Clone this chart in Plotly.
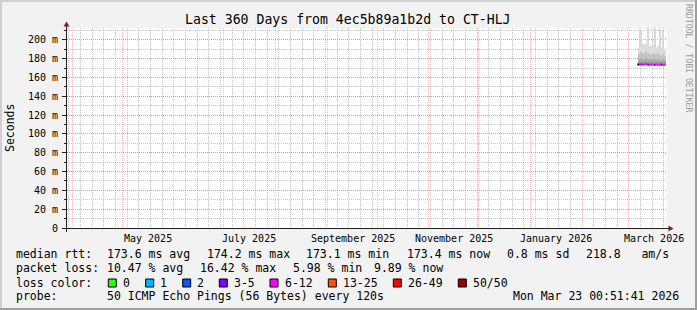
import plotly.graph_objects as go
import pandas as pd

# ---------------- data ----------------
TITLE = "Last 360 Days from 4ec5b89a1b2d to CT-HLJ"
Y_LABEL = "Seconds"
WATERMARK = "RRDTOOL / TOBI OETIKER"

x_range = ["2025-03-28 19:40", "2026-03-23 19:40"]
y_range = [0, 212.7]

y_tick_vals = [0, 20, 40, 60, 80, 100, 120, 140, 160, 180, 200]
y_tick_text = ["0", "20 m", "40 m", "60 m", "80 m", "100 m", "120 m", "140 m", "160 m", "180 m", "200 m"]

month_starts = ["2025-05-01", "2025-07-01", "2025-09-01", "2025-11-01", "2026-01-01", "2026-03-01"]
month_labels = ["May 2025", "July 2025", "September 2025", "November 2025", "January 2026", "March 2026"]

# smoke (ping distribution per day, ms)
smoke_days = pd.date_range("2026-03-07", "2026-03-22", freq="D")
ping_min = [173.0, 173.2, 173.1, 173.0, 173.3, 173.1, 173.0, 173.2, 173.1, 173.0, 173.2, 173.1, 173.0, 173.1, 173.2, 173.0]
ping_p55 = [176.5, 177.0, 176.8, 176.5, 177.2, 176.8, 176.5, 176.3, 176.8, 176.5, 176.3, 176.8, 176.4, 176.2, 176.6, 176.2]
ping_p60 = [179.5, 180.5, 180.0, 179.5, 181.0, 180.0, 179.5, 179.0, 180.0, 179.5, 179.0, 180.0, 179.0, 178.5, 179.5, 178.5]
ping_p75 = [185.0, 187.0, 186.0, 185.0, 188.0, 186.0, 185.0, 184.0, 186.0, 185.0, 184.0, 186.0, 184.0, 183.0, 185.0, 183.0]
ping_p90 = [192.0, 195.0, 194.0, 193.0, 196.0, 195.0, 193.0, 191.0, 194.0, 192.0, 190.0, 193.0, 191.0, 190.0, 192.0, 189.0]
ping_max = [213.0, 211.0, 196.0, 195.0, 197.0, 213.0, 194.0, 192.0, 195.0, 213.0, 191.0, 194.0, 212.0, 191.0, 210.0, 190.0]

# median rtt per day and lost pings (of 50)
median_days = pd.date_range("2026-03-06", "2026-03-22", freq="D")
median_rtt = [173.9, 173.6, 173.9, 173.5, 173.8, 174.2, 173.6, 173.5, 173.7, 173.6, 173.4, 173.8, 173.6, 173.5, 173.7, 173.3, 173.4]
loss_pings = [None, 6, 5, 7, 6, 8, 5, 6, 7, 6, 5, 6, 8, 6, 5, 7, 6]

loss_bins = ["0", "1", "2", "3-5", "6-12", "13-25", "26-49", "50/50"]
loss_upper = [0, 1, 2, 5, 12, 25, 49, 50]
loss_colors = ["#26ff00", "#00b8ff", "#0059ff", "#7e00ff", "#ff00ff", "#ff5500", "#ff0000", "#a00000"]

rtt_names = ["avg", "max", "min", "now"]
rtt_values = [173.6, 174.2, 173.1, 173.4]
rtt_sd = 0.8
rtt_ams = 218.8
loss_names = ["avg", "max", "min", "now"]
loss_values = [10.47, 16.42, 5.98, 9.89]
probe_text = "50 ICMP Echo Pings (56 Bytes) every 120s"
stamp_text = "Mon Mar 23 00:51:41 2026"

# ---------------- layout helpers ----------------
W, H = 697, 310
PL, PR, PT, PB = 67, 667, 28, 228
FONT = "DejaVu Sans Mono"


def px(x):
    return (x - PL) / (PR - PL)


def py(y):
    return (PB - y) / (PB - PT)


fig = go.Figure()

DAY = 86400000
smoke_layers = [
    (ping_max, "#d8d8d8", 0.45),
    (ping_p90, "#dcdcdc", 1.0),
    (ping_p75, "#c4c4c4", 1.0),
    (ping_p60, "#acacac", 1.0),
    (ping_p55, "#959595", 1.0),
]
xc = smoke_days + pd.Timedelta(hours=12)
for top, col, wfrac in smoke_layers:
    fig.add_trace(go.Bar(
        x=xc, y=[t - b for t, b in zip(top, ping_min)], base=ping_min,
        width=DAY * wfrac, marker=dict(color=col, line=dict(width=0)),
        showlegend=False, hoverinfo="skip"))


def loss_color(n):
    if n is None:
        return "#000000"
    for ub, c in zip(loss_upper, loss_colors):
        if n <= ub:
            return c
    return loss_colors[-1]


segs = {}
for d, m, n in zip(median_days, median_rtt, loss_pings):
    c = loss_color(n)
    xs, ys = segs.setdefault(c, ([], []))
    xs += [d, d + pd.Timedelta(days=1), None]
    ys += [m, m, None]
for c, (xs, ys) in segs.items():
    fig.add_trace(go.Scatter(x=xs, y=ys, mode="lines", line=dict(color=c, width=2),
                             showlegend=False, hoverinfo="skip"))

GRID = "rgba(143,143,143,0.5)"
MGRID = "rgba(222,79,79,0.35)"

fig.update_layout(
    width=W, height=H,
    margin=dict(l=PL, r=W - PR, t=PT, b=H - PB, pad=0),
    paper_bgcolor="#f2f2f2", plot_bgcolor="#ffffff",
    barmode="overlay", bargap=0,
    showlegend=False,
    font=dict(family=FONT, color="#000000"),
    xaxis=dict(
        type="date", range=x_range, autorange=False, automargin=False,
        tickmode="linear", tick0="2025-04-01", dtick="M1",
        showticklabels=False, ticks="", showline=False, zeroline=False,
        showgrid=True, gridcolor=MGRID, griddash="1px,1px", gridwidth=1,
        minor=dict(tick0="2025-03-30", dtick=7 * DAY, showgrid=True,
                   gridcolor=GRID, griddash="1px,1px", gridwidth=1, ticks=""),
    ),
    yaxis=dict(
        range=y_range, autorange=False, automargin=False,
        tickmode="array", tickvals=y_tick_vals, ticktext=y_tick_text,
        tickfont=dict(family=FONT, size=10, color="#000000"),
        ticks="outside", ticklen=4, tickcolor="#1f1f1f", tickwidth=1,
        ticklabelstandoff=2,
        showline=False, zeroline=False,
        showgrid=True, gridcolor=MGRID, griddash="1px,1px", gridwidth=1,
        minor=dict(tick0=0, dtick=10, showgrid=True, gridcolor=GRID,
                   griddash="1px,1px", gridwidth=1, ticks="outside", ticklen=2,
                   tickcolor="#1f1f1f"),
    ),
)

shapes = []
# frame
shapes.append(dict(type="rect", xref="paper", yref="paper", x0=px(0), x1=px(2), y0=py(0), y1=py(H),
                   fillcolor="#cfcfcf", line=dict(width=0), layer="above"))
shapes.append(dict(type="rect", xref="paper", yref="paper", x0=px(0), x1=px(W), y0=py(0), y1=py(2),
                   fillcolor="#cfcfcf", line=dict(width=0), layer="above"))
shapes.append(dict(type="rect", xref="paper", yref="paper", x0=px(W - 2), x1=px(W), y0=py(0), y1=py(H),
                   fillcolor="#9e9e9e", line=dict(width=0), layer="above"))
shapes.append(dict(type="rect", xref="paper", yref="paper", x0=px(0), x1=px(W), y0=py(H - 2), y1=py(H),
                   fillcolor="#9e9e9e", line=dict(width=0), layer="above"))
# axes
shapes.append(dict(type="line", xref="paper", yref="paper", x0=px(63), x1=px(669), y0=py(228.5), y1=py(228.5),
                   line=dict(color="#1f1f1f", width=1), layer="above"))
shapes.append(dict(type="line", xref="paper", yref="paper", x0=px(66.5), x1=px(66.5), y0=py(232), y1=py(25),
                   line=dict(color="#1f1f1f", width=1), layer="above"))
# arrows
shapes.append(dict(type="path", xref="paper", yref="paper",
                   path=f"M {px(66.5)} {py(21.5)} L {px(63.5)} {py(26.5)} L {px(69.5)} {py(26.5)} Z",
                   fillcolor="#801f1f", line=dict(width=0), layer="above"))
shapes.append(dict(type="path", xref="paper", yref="paper",
                   path=f"M {px(673.5)} {py(228.5)} L {px(668.5)} {py(225.5)} L {px(668.5)} {py(231.5)} Z",
                   fillcolor="#801f1f", line=dict(width=0), layer="above"))

annotations = []


def text(x, y, s, size=11.5, anchor="left", color="#000000", angle=0, yanchor="middle"):
    annotations.append(dict(xref="paper", yref="paper", x=px(x), y=py(y), text=s, showarrow=False,
                            xanchor=anchor, yanchor=yanchor, textangle=angle,
                            font=dict(family=FONT, size=size, color=color),
                            borderpad=0, borderwidth=0))


text(348, 19, TITLE, size=13.2, anchor="center")
text(10, 128, Y_LABEL, size=11.5, anchor="center", angle=-90)
text(688.5, 58.5, WATERMARK, size=8.2, anchor="center", color="#9c9c9c", angle=90)

# month labels on the date scale
for d, lab in zip(month_starts, month_labels):
    annotations.append(dict(xref="x", yref="paper", x=pd.Timestamp(d) + pd.Timedelta(days=15.3),
                            y=py(238.3), text=lab, showarrow=False, xanchor="center", yanchor="middle",
                            font=dict(family=FONT, size=10, color="#000000"), borderpad=0, borderwidth=0))

# legend rows
L1, L2, L3, L4 = 254, 268, 282.5, 296
text(15.5, L1, "median rtt:")
rtt_x = [107, 207, 305.5, 406.7]
for xx, v, n in zip(rtt_x, rtt_values, rtt_names):
    text(xx, L1, f"{v:.1f} ms {n}")
text(506.7, L1, f"{rtt_sd:.1f} ms sd")
text(586.2, L1, f"{rtt_ams:.1f}   am/s")

text(15.5, L2, "packet loss:")
loss_x = [107, 199.7, 292.5, 373.5]
for xx, v, n in zip(loss_x, loss_values, loss_names):
    text(xx, L2, f"{v:.2f} % {n}")

text(15.5, L3, "loss color:")
box_x = [108.3, 145.7, 182.7, 219.3, 270, 328.3, 393.3, 458.3]
lab_x = [123, 160.3, 197, 234, 284.7, 342.7, 408, 473]
for bx, lx, lab, col in zip(box_x, lab_x, loss_bins, loss_colors):
    shapes.append(dict(type="rect", xref="paper", yref="paper", x0=px(bx), x1=px(bx + 8),
                       y0=py(279), y1=py(287), fillcolor=col, line=dict(color="#000000", width=1),
                       layer="above"))
    text(lx, L3, lab)

text(15.5, L4, "probe:")
text(107, L4, probe_text)
text(513, L4, stamp_text)

fig.update_layout(shapes=shapes, annotations=annotations)
fig.write_html("out.html")
